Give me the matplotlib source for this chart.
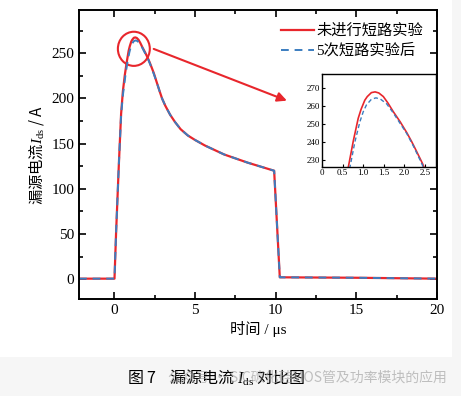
import numpy as np
import matplotlib
matplotlib.use("Agg")
from matplotlib import pyplot as plt
from matplotlib.patches import Ellipse, Rectangle

plt.rcParams['font.family'] = ['Liberation Serif', 'Noto Sans CJK SC']
plt.rcParams['mathtext.fontset'] = 'custom'
plt.rcParams['mathtext.rm'] = 'Liberation Serif'
plt.rcParams['mathtext.it'] = 'Liberation Serif:italic'
CJK = ['Noto Sans CJK SC']

# values (time in us, current in A)
t_red = [-2.2, 0.0, 0.1, 0.27, 0.41, 0.52, 0.64, 0.76, 0.88, 0.95, 1.04, 1.1, 1.2, 1.29,
         1.38, 1.49, 1.6, 1.73, 1.9, 2.06, 2.18, 2.29, 2.44, 2.6, 2.78, 2.95, 3.15,
         3.45, 3.75, 4.1, 4.55, 5.0, 5.6, 6.8, 8.25, 9.9, 10.25, 15.0, 20.0]
i_red = [0.5, 0.5, 52, 127, 183, 208, 226, 240.4, 253, 258, 263, 265, 267.2, 267.6,
         267, 265, 261.5, 256.7, 251, 245, 240, 235, 228, 219, 209, 200, 192,
         182, 174, 166, 159, 154, 148, 138, 129, 120, 2, 1.5, 0.5]
t_blue = [-2.2, 0.0, 0.1, 0.27, 0.41, 0.53, 0.68, 0.8, 0.92, 1.0, 1.08, 1.2, 1.31,
          1.42, 1.57, 1.73, 1.89, 2.06, 2.22, 2.4, 2.6, 2.78, 2.95, 3.15,
          3.45, 3.75, 4.1, 4.55, 5.0, 5.6, 6.8, 8.25, 9.9, 10.25, 15.0, 20.0]
i_blue = [0.5, 0.5, 52, 127, 182, 205, 226, 240, 251, 256.5, 260.4, 263.5, 264.3,
          263.6, 261, 256, 250.4, 244.5, 237.6, 229, 219, 209, 200, 192,
          182, 174, 166, 159, 154, 148, 138, 129, 120, 2, 1.5, 0.5]

red = "#e8262c"
blue = "#3b7dc0"

fig = plt.figure(figsize=(4.61, 3.96), dpi=100, facecolor="#f6f6f6")
fig.patches.append(Rectangle((0, 0.0985), 0.9805, 0.9015, transform=fig.transFigure,
                             facecolor="white", edgecolor="none", zorder=-1))

ax = fig.add_axes([0.1714, 0.245, 0.7766, 0.7298])
ax.plot(t_red, i_red, color=red, lw=1.6, label="未进行短路实验")
ax.plot(t_blue, i_blue, color=blue, lw=1.4, ls=(0, (4, 3)), label="5次短路实验后")
ax.set_xlim(-2.2, 20)
ax.set_ylim(-22, 298)
ax.set_xticks([0, 5, 10, 15, 20])
ax.set_xticks(np.arange(2.5, 20, 5), minor=True)
ax.set_yticks([0, 50, 100, 150, 200, 250])
ax.set_yticks(np.arange(25, 290, 50), minor=True)
ax.tick_params(which="both", direction="in", top=True, right=True, labelsize=11, width=1.2)
ax.tick_params(which="major", length=5)
ax.tick_params(which="minor", length=3)
for s in ax.spines.values():
    s.set_linewidth(1.4)
ax.set_xlabel("时间 / μs", fontsize=11, labelpad=3)
ax.set_ylabel("漏源电流$I_\\mathrm{ds}$ / A", fontsize=11, labelpad=4, family=CJK)
leg = ax.legend(loc="upper right", frameon=False, fontsize=11, handlelength=2.2,
                handletextpad=0.15, borderaxespad=0.5, labelspacing=0.35)

# circle on the peak and arrow to the inset
ax.add_patch(Ellipse((1.2, 255), 1.98, 37.8, fill=False, edgecolor=red, lw=1.5))
ax.annotate("", xy=(10.85, 196.5), xytext=(2.27, 256),
            arrowprops=dict(arrowstyle="-|>", color=red, lw=1.5, mutation_scale=14))

# inset
axin = fig.add_axes([0.6985, 0.5783, 0.2473, 0.2348])
axin.plot(t_red, i_red, color=red, lw=1.2)
axin.plot(t_blue, i_blue, color=blue, lw=1.0, ls=(0, (3, 2)))
axin.set_xlim(0, 2.77)
axin.set_ylim(226, 277.5)
axin.set_xticks([0, 0.5, 1.0, 1.5, 2.0, 2.5])
axin.set_xticklabels(["0", "0.5", "1.0", "1.5", "2.0", "2.5"])
axin.set_yticks([230, 240, 250, 260, 270])
axin.tick_params(direction="in", labelsize=6.5, length=2.5, pad=1.5)
for s in axin.spines.values():
    s.set_linewidth(1.0)

fig.text(0.275, 0.045, "图 7    漏源电流 $I_\\mathrm{ds}$ 对比图", fontsize=11.5, va="center",
         family=CJK)
fig.text(0.365, 0.047, "公众号 · SiC碳化硅MOS管及功率模块的应用", fontsize=10,
         color="#9a9a9a", alpha=0.6, va="center", family=CJK)

fig.savefig("out.png", dpi=100, facecolor=fig.get_facecolor())
